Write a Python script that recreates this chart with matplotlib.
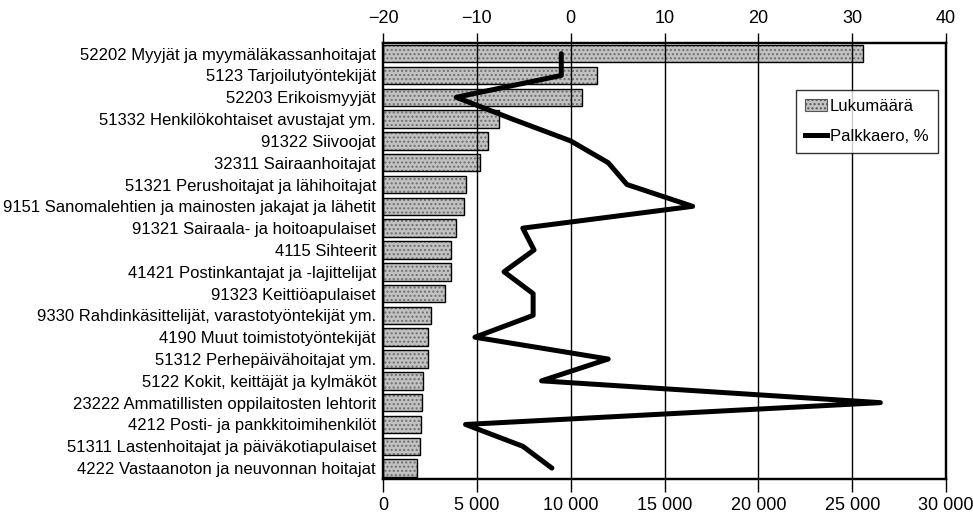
import matplotlib.pyplot as plt
from matplotlib.patches import Patch
from matplotlib.lines import Line2D
from matplotlib.ticker import FuncFormatter

plt.rcParams['font.family'] = ['Liberation Sans', 'DejaVu Sans']

ammatit = [
    '52202 Myyjät ja myymäläkassanhoitajat',
    '5123 Tarjoilutyöntekijät',
    '52203 Erikoismyyjät',
    '51332 Henkilökohtaiset avustajat ym.',
    '91322 Siivoojat',
    '32311 Sairaanhoitajat',
    '51321 Perushoitajat ja lähihoitajat',
    '9151 Sanomalehtien ja mainosten jakajat ja lähetit',
    '91321 Sairaala- ja hoitoapulaiset',
    '4115 Sihteerit',
    '41421 Postinkantajat ja -lajittelijat',
    '91323 Keittiöapulaiset',
    '9330 Rahdinkäsittelijät, varastotyöntekijät ym.',
    '4190 Muut toimistotyöntekijät',
    '51312 Perhepäivähoitajat ym.',
    '5122 Kokit, keittäjät ja kylmäköt',
    '23222 Ammatillisten oppilaitosten lehtorit',
    '4212 Posti- ja pankkitoimihenkilöt',
    '51311 Lastenhoitajat ja päiväkotiapulaiset',
    '4222 Vastaanoton ja neuvonnan hoitajat',
]
lukumaara = [25600, 11400, 10600, 6200, 5600, 5150, 4400, 4300, 3900, 3650,
             3650, 3300, 2550, 2420, 2420, 2150, 2100, 2020, 1980, 1800]
palkkaero = [-1.0, -1.0, -12.2, -6.2, 0.0, 4.0, 6.0, 13.0, -5.1, -3.9,
             -7.1, -4.0, -4.0, -10.2, 4.0, -3.1, 33.0, -11.2, -5.1, -2.0]

rivit = list(range(len(ammatit)))

fig = plt.figure(figsize=(9.73, 5.15), dpi=100)
ax = fig.add_axes([0.3936, 0.0699, 0.5787, 0.8471])

# pylväät: pisterasteri + musta reunus
ax.barh(rivit, lukumaara, height=0.8, color='#c2c2c2', hatch='....',
        edgecolor='#6e6e6e', linewidth=0, zorder=2)
ax.barh(rivit, lukumaara, height=0.8, fill=False, edgecolor='black',
        linewidth=1.0, zorder=3)

ax.set_xlim(0, 30000)
ax.set_ylim(len(ammatit) - 0.5, -0.5)
ax.set_yticks(rivit)
ax.set_yticklabels(ammatit, fontsize=12)
ax.tick_params(axis='y', length=0, pad=5)
ax.set_xticks(range(0, 30001, 5000))
ax.xaxis.set_major_formatter(FuncFormatter(lambda v, p: f'{int(v):,}'.replace(',', ' ')))
ax.tick_params(axis='x', labelsize=13, length=9, width=1, pad=4, direction='out')

ax2 = ax.twiny()
ax2.set_xlim(-20, 40)
ax2.set_xticks(range(-20, 41, 10))
ax2.tick_params(axis='x', labelsize=13, length=7, width=1, pad=4, direction='out')
for v in range(-10, 40, 10):
    ax2.axvline(v, color='black', linewidth=1, zorder=1)
ax2.plot(palkkaero, rivit, color='black', linewidth=3.6, solid_capstyle='round',
         zorder=4)
ax2.set_ylim(len(ammatit) - 0.5, -0.5)

for a in (ax, ax2):
    for s in a.spines.values():
        s.set_linewidth(1.6)

kasittelijat = [
    Patch(facecolor='#c2c2c2', hatch='....', edgecolor='#555555', linewidth=0.8),
    Line2D([0], [0], color='black', linewidth=3.6),
]
leg = ax2.legend(kasittelijat, ['Lukumäärä', 'Palkkaero, %'], loc='upper left',
                 bbox_to_anchor=(0.733, 0.892), fontsize=12, frameon=True,
                 fancybox=False, edgecolor='black', handlelength=1.3,
                 handletextpad=0.2, borderpad=0.55, labelspacing=0.9,
                 borderaxespad=0)
leg.get_frame().set_linewidth(1.0)

fig.savefig('out.png', dpi=100)
